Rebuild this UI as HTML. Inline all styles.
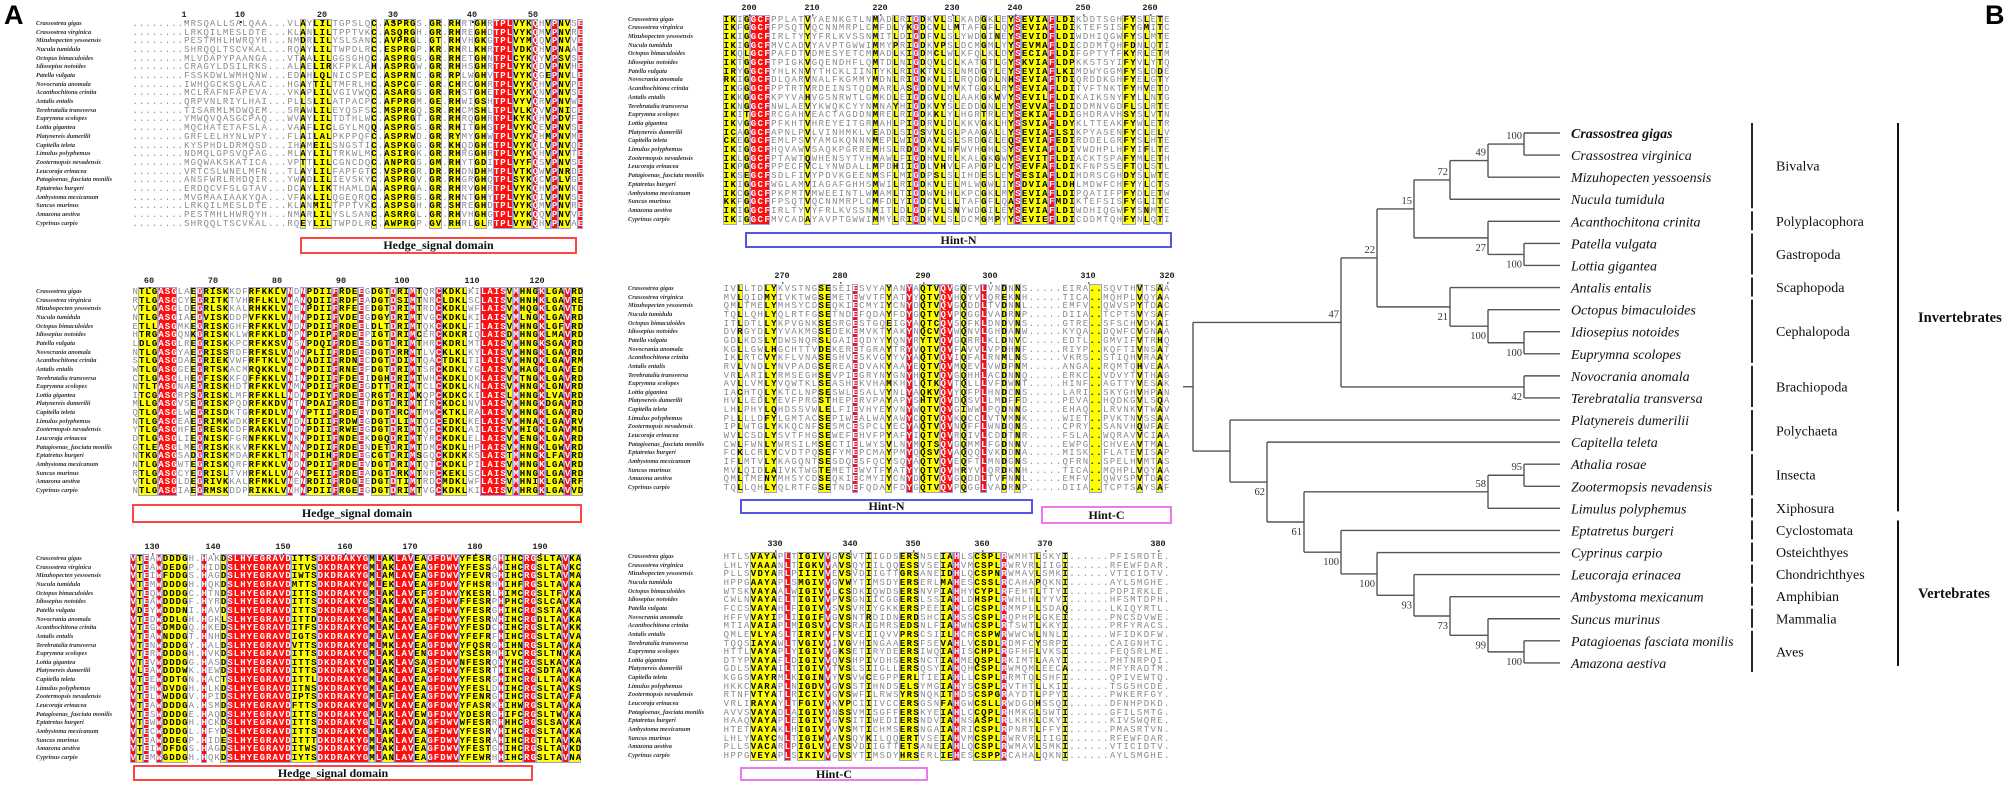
<!DOCTYPE html>
<html><head><meta charset="utf-8">
<style>
html,body{margin:0;padding:0;background:#fff;}
body{width:2011px;height:788px;position:relative;overflow:hidden;font-family:"Liberation Sans",sans-serif;}
.abs{position:absolute;}
.nm{position:absolute;font-family:"Liberation Serif",serif;font-style:italic;font-weight:bold;font-size:6.3px;color:#333;white-space:nowrap;line-height:8px;}
.row{position:absolute;font-family:"Liberation Mono",monospace;font-size:9px;line-height:10px;white-space:pre;}
.hl{position:absolute;box-sizing:border-box;border:1px solid #9aa0e0;}
.rul{position:absolute;font-family:"Liberation Mono",monospace;font-weight:bold;font-size:8.5px;color:#222;transform:translateX(-50%);line-height:9px;}
.rul:after{content:"";position:absolute;left:50%;top:10px;width:1.5px;height:1.5px;background:#333;}
.box{position:absolute;box-sizing:border-box;background:#fff;font-family:"Liberation Serif",serif;font-weight:bold;color:#111;text-align:center;}
</style></head>
<body>
<div class="abs" style="left:4px;top:0px;font-size:27px;font-weight:bold;">A</div>
<div class="abs" style="left:1985px;top:0px;font-size:27px;font-weight:bold;">B</div>
<div id="align"></div>

<div class="box" style="left:300px;top:237px;width:277px;height:17px;border:2px solid #f44;font-size:12px;line-height:13px;">Hedge_signal domain</div>
<div class="box" style="left:132px;top:504px;width:450px;height:19px;border:2px solid #f44;font-size:12px;line-height:15px;">Hedge_signal domain</div>
<div class="box" style="left:133px;top:765px;width:400px;height:16px;border:2px solid #f44;font-size:12px;line-height:12px;">Hedge_signal domain</div>
<div class="box" style="left:745px;top:232px;width:427px;height:16px;border:2px solid #55e;font-size:12px;line-height:12px;">Hint-N</div>
<div class="box" style="left:740px;top:499px;width:293px;height:15px;border:2px solid #55e;font-size:12px;line-height:11px;">Hint-N</div>
<div class="box" style="left:1041px;top:506px;width:131px;height:18px;border:2px solid #e7e;font-size:12px;line-height:14px;">Hint-C</div>
<div class="box" style="left:740px;top:767px;width:188px;height:14px;border:2px solid #e7e;font-size:12px;line-height:10px;">Hint-C</div>

<svg id="tree" width="2011" height="788" style="position:absolute;left:0;top:0;" xmlns="http://www.w3.org/2000/svg"></svg>

<script>
// ---------- Alignment data ----------
const species = ["Crassostrea gigas","Crassostrea virginica","Mizuhopecten yessoensis","Nucula tumidula","Octopus bimaculoides","Idiosepius notoides","Patella vulgata","Novocrania anomala","Acanthochitona crinita","Antalis entalis","Terebratalia transversa","Euprymna scolopes","Lottia gigantea","Platynereis dumerilii","Capitella teleta","Limulus polyphemus","Zootermopsis nevadensis","Leucoraja erinacea","Patagioenas_fasciata monilis","Eptatretus burgeri","Ambystoma mexicanum","Suncus murinus","Amazona aestiva","Cyprinus carpio"];
const blockSeqs = [
 "........MRSQALLSALQAA...VLAYLILTGPSLQC.ASPRGS.GR.RHRTGHRTPLVYKQHVPNVSE",
 "NTLGASGLAEGRISKKDFRFKKLVNDNPDIIFRDEEGDGTDRIMTQRCKDKLKILAISVMHNGKLGAVRD",
 "VTEAWDDDGH.HAKDSLHYEGRAVDITTSDKDRAKYGMLAKLAVEAGFDWVYFESRGHIHCRGSLTAVKA",
 "IKIGGCFPPLATVYAENKGTLNMADLRIGDKVLSLKADGKLEYSEVIAFLDIKDDTSGHFYSLETE",
 "IVLLTDLYKVSTNGSESEIESVYAYANYAQTVQVGQFVLVNDNNS.....EIRA..SQVTHVTSAA",
 "HTLSVAYAPLTIGIVVGVSVTIIGDSERSNSEIAHLSCSPLRWMHTLSKYI......PFISRDTE."
];
const blockYellow = [
 [[26,26],[28,30],[37,37],[39,43],[46,47],[49,50],[53,54],[59,61],[64,64],[66,67]],
 [[1,3],[9,9],[11,14],[18,23],[27,30],[32,34],[37,39],[41,42],[44,44],[48,51],[58,58],[60,62],[64,66],[68,69]],
 [[1,1],[5,8],[14,14],[25,28],[37,37],[39,40],[44,45],[51,55],[58,60],[63,66],[68,69]],
 [[0,1],[3,3],[12,12],[22,22],[25,25],[27,27],[29,29],[31,32],[34,34],[38,38],[40,40],[42,42],[44,47],[49,51],[59,60],[62,62],[64,64]],
 [[2,2],[6,7],[14,15],[24,24],[29,31],[35,35],[41,41],[43,43],[54,55],[61,61],[64,64]],
 [[4,7],[11,14],[17,18],[21,21],[26,28],[32,33],[37,40],[46,46],[50,50]]
];
const blockRed = [
 [[56,58],[62,62],[65,65],[69,69]],
 [[4,6],[10,10],[24,24],[26,26],[31,31],[35,35],[40,40],[43,43],[47,47],[54,57],[59,59],[63,63],[67,67]],
 [[0,0],[2,2],[4,4],[11,11],[15,24],[29,36],[38,38],[41,43],[46,50],[57,57],[61,62],[67,67]],
 [[4,6],[28,28],[43,43],[48,48]],
 [[19,19],[27,27],[32,33],[38,38]],
 [[9,9],[15,15],[34,34],[41,41]]
];
const rulerLabels = [
 ["1","10","20","30","40","50"],
 ["60","70","80","90","100","110","120"],
 ["130","140","150","160","170","180","190"],
 ["200","210","220","230","240","250","260"],
 ["270","280","290","300","310","320"],
 ["330","340","350","360","370","380"]
];
const rulerX = [
 [184,240,322,393,472,533],
 [149,213,277,341,402,472,537],
 [152,213,283,345,410,475,540],
 [749,812,880,952,1015,1083,1150],
 [782,840,923,990,1088,1167],
 [775,850,913,982,1045,1158]
];
const blockGeom = [
 {nameX:36,seqX:132,colW:6.45,rowY:24,rowH:8.68,rulY:11,n:70},
 {nameX:36,seqX:132,colW:6.45,rowY:292,rowH:8.65,rulY:277,n:70},
 {nameX:36,seqX:130,colW:6.45,rowY:559,rowH:8.65,rulY:543,n:70},
 {nameX:628,seqX:723,colW:6.77,rowY:19.5,rowH:8.7,rulY:4,n:66},
 {nameX:628,seqX:723,colW:6.77,rowY:289,rowH:8.65,rulY:272,n:66},
 {nameX:628,seqX:723,colW:6.77,rowY:557,rowH:8.65,rulY:540,n:66}
];
const AA = "ACDEFGHIKLMNPQRSTVWY";

const align = document.getElementById('align');
blockGeom.forEach((g,bi)=>{
  const mask = new Array(g.n).fill('.');
  blockYellow[bi].forEach(([a,b])=>{for(let c=a;c<=b;c++) if(c<g.n) mask[c]='y';});
  blockRed[bi].forEach(([a,b])=>{for(let c=a;c<=b;c++) if(c<g.n) mask[c]='r';});
  const top = g.rowY - 5, bottom = g.rowY + 23*g.rowH + 5;
  // highlight column blocks
  let c=0;
  while(c<g.n){
    if(mask[c]==='.'){c++;continue;}
    let e=c; while(e+1<g.n && mask[e+1]===mask[c]) e++;
    const d=document.createElement('div');
    
    
    d.className='hl';
    d.style.cssText=`left:${g.seqX+c*g.colW}px;top:${top}px;width:${(e-c+1)*g.colW}px;height:${bottom-top}px;background:${mask[c]==='y'?'#ffff00':'#ff1010'};`;
    align.appendChild(d);
    c=e+1;
  }
  // ruler
  rulerLabels[bi].forEach((t,i)=>{
    const d=document.createElement('div');
    
    
    d.className='rul'; d.textContent=t;
    d.style.left=rulerX[bi][i]+'px'; d.style.top=g.rulY+'px';
    align.appendChild(d);
  });
  const base = blockSeqs[bi].padEnd(g.n,'.').slice(0,g.n);
  species.forEach((sp,r)=>{
    const y = g.rowY + r*g.rowH;
    const nm=document.createElement('div');
    
    
    nm.className='nm'; nm.textContent=sp;
    nm.style.left=g.nameX+'px'; nm.style.top=(y-4)+'px';
    align.appendChild(nm);
    // derive row sequence
    let s='';
    for(let k=0;k<g.n;k++){
      let ch=base[k];
      if(ch!=='.' && r>0){
        const idx=AA.indexOf(ch);
        if(mask[k]==='.' && (r*5+k*3+bi)%4!==0) ch=AA[(idx+r*3+k*7+20)%20];
        else if(mask[k]==='y' && (r+k)%7===0) ch=AA[(idx+r)%20];
      }
      s+=ch;
    }
    const row=document.createElement('div');
    
    
    row.className='row';
    row.style.cssText=`left:${g.seqX+ (g.colW-5.4)/2}px;top:${y-5}px;letter-spacing:${g.colW-5.4}px;`;
    let k=0, html='';
    while(k<g.n){
      let e=k; while(e+1<g.n && mask[e+1]===mask[k]) e++;
      const seg=s.slice(k,e+1);
      const st = mask[k]==='y'?'color:#000;font-weight:bold':mask[k]==='r'?'color:#fff;font-weight:bold':'color:#8a8a8a';
      html+=`<span style="${st}">${seg}</span>`;
      k=e+1;
    }
    row.innerHTML=html;
    align.appendChild(row);
  });
});

// ---------- Tree data ----------
const leafNames = ["Crassostrea gigas","Crassostrea virginica","Mizuhopecten yessoensis","Nucula tumidula","Acanthochitona crinita","Patella vulgata","Lottia gigantea","Antalis entalis","Octopus bimaculoides","Idiosepius notoides","Euprymna scolopes","Novocrania anomala","Terebratalia transversa","Platynereis dumerilii","Capitella teleta","Athalia rosae","Zootermopsis nevadensis","Limulus polyphemus","Eptatretus burgeri","Cyprinus carpio","Leucoraja erinacea","Ambystoma mexicanum","Suncus murinus","Patagioenas fasciata monilis","Amazona aestiva"];
const depthX = [1193,1230,1267,1304,1341,1377,1414,1450,1488,1524];
const leafEndX = 1560;
// node: [id, depth, children (numbers = leaf index, strings = node id), support, label position]
const nodes = [
 ["root",0,["n47","nB"],"",""],
 ["n47",4,["n22","n42"],"47","a"],
 ["n22",5,["n15","n21"],"22","a"],
 ["n15",6,["n72","n27"],"15","a"],
 ["n72",7,["n49",3],"72","a"],
 ["n49",8,["n100a",2],"49","a"],
 ["n100a",9,[0,1],"100","a"],
 ["n27",8,[4,"n100b"],"27","b"],
 ["n100b",9,[5,6],"100","b"],
 ["n21",7,[7,"n100c"],"21","b"],
 ["n100c",8,[8,"n100d"],"100","b"],
 ["n100d",9,[9,10],"100","b"],
 ["n42",9,[11,12],"42","b"],
 ["nB",1,[13,"n62"],"",""],
 ["n62",2,[14,"n61"],"62","b"],
 ["n61",3,["n58","n100e"],"61","b"],
 ["n58",8,["n95",17],"58","a"],
 ["n95",9,[15,16],"95","a"],
 ["n100e",4,[18,"n100f"],"100","b"],
 ["n100f",5,[19,"n93"],"100","b"],
 ["n93",6,[20,"n73"],"93","b"],
 ["n73",7,[21,"n99"],"73","b"],
 ["n99",8,[22,"n100g"],"99","b"],
 ["n100g",9,[23,24],"100","b"]
];
const groupNames = ["Bivalva","Polyplacophora","Gastropoda","Scaphopoda","Cephalopoda","Brachiopoda","Polychaeta","Insecta","Xiphosura","Cyclostomata","Osteichthyes","Chondrichthyes","Amphibian","Mammalia","Aves"];
const groupFirst = [0,4,5,7,8,11,13,15,17,18,19,20,21,22,23];
const groupLast  = [3,4,6,7,10,12,14,16,17,18,19,20,21,22,24];
const cladeNames = ["Invertebrates","Vertebrates"];
const cladeFirst = [0,18];
const cladeLast = [17,24];

const LEAF_Y0 = 133, LEAF_DY = 22.08;
function leafY(i){ return LEAF_Y0 + LEAF_DY*i; }
const svg = document.getElementById('tree');
const NS = "http://www.w3.org/2000/svg";
const nodeMap = {}; nodes.forEach(n=>nodeMap[n[0]]=n);
function childY(c){ return typeof c==='number' ? leafY(c) : nodeY(nodeMap[c]); }
function childX(c){ return typeof c==='number' ? leafEndX : depthX[nodeMap[c][1]]; }
function nodeY(n){ const ys=n[2].map(childY); return (Math.min(...ys)+Math.max(...ys))/2; }
function line(x1,y1,x2,y2,name,col,w){
  const l=document.createElementNS(NS,'line');
  
  
  l.setAttribute('x1',x1);l.setAttribute('y1',y1);l.setAttribute('x2',x2);l.setAttribute('y2',y2);
  l.setAttribute('stroke',col||'#555');l.setAttribute('stroke-width',w||1.4);
  svg.appendChild(l);
}
function text(x,y,str,style,anchor,name){
  const t=document.createElementNS(NS,'text');
  
  
  t.setAttribute('x',x);t.setAttribute('y',y);
  t.setAttribute('style',style);
  if(anchor) t.setAttribute('text-anchor',anchor);
  t.textContent=str;
  svg.appendChild(t);
}
nodes.forEach(n=>{
  const x=depthX[n[1]];
  const ys=n[2].map(childY);
  line(x,Math.min(...ys),x,Math.max(...ys),'tree-branch-vertical');
  n[2].forEach(c=>line(x,childY(c),childX(c),childY(c),'tree-branch-horizontal'));
  if(n[3]){
    const my=nodeY(n);
    const ly = n[4]==='a' ? my-5 : my+13;
    text(x-2,ly,n[3],'font-family:"Liberation Serif",serif;font-size:10.5px;fill:#333;','end','bootstrap-value');
  }
});
line(depthX[0]-10,nodeY(nodeMap.root),depthX[0],nodeY(nodeMap.root),'tree-root-stub');
leafNames.forEach((nm,i)=>{
  text(1571,leafY(i)+5,nm,'font-family:"Liberation Serif",serif;font-style:italic;font-size:14px;fill:#111;'+(i===0?'font-weight:bold;':''),null,'leaf-label');
});
groupNames.forEach((g,i)=>{
  const y1=leafY(groupFirst[i])-10, y2=leafY(groupLast[i])+9;
  line(1752,y1,1752,y2,'group-bracket','#111',1.8);
  text(1776,(y1+y2)/2+5,g,'font-family:"Liberation Serif",serif;font-size:14px;fill:#111;',null,'group-label');
});
cladeNames.forEach((g,i)=>{
  const y1=leafY(cladeFirst[i])-10, y2=leafY(cladeLast[i])+3;
  line(1898,y1,1898,y2,'clade-bracket','#111',2);
  text(1918,(y1+y2)/2+5,g,'font-family:"Liberation Serif",serif;font-weight:bold;font-size:14.5px;fill:#111;',null,'clade-label');
});
</script>
</body></html>
